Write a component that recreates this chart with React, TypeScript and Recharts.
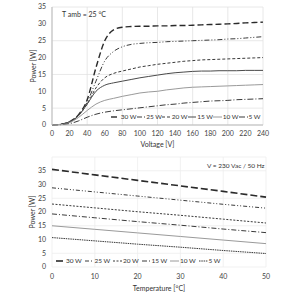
import { CartesianGrid, Line, LineChart, XAxis, YAxis } from 'recharts';

// top chart: power vs voltage at T amb = 25 °C
const voltage = [0, 10, 20, 30, 40, 50, 60, 70, 80, 90, 100, 110, 120, 130, 140, 150, 160, 170, 180, 190, 200, 210, 220, 230, 240];
const v30 = [0, 0.2, 1, 3, 7.5, 17, 25, 28.2, 29, 29.2, 29.3, 29.3, 29.4, 29.4, 29.5, 29.5, 29.6, 29.7, 29.8, 29.9, 30, 30.1, 30.3, 30.4, 30.5];
const v25 = [0, 0.2, 1, 3, 6.8, 13, 19, 21.8, 23.2, 23.9, 24.2, 24.4, 24.5, 24.7, 24.8, 24.9, 25, 25.1, 25.2, 25.3, 25.5, 25.6, 25.8, 26, 26.2];
const v20 = [0, 0.2, 0.9, 2.8, 6.2, 11, 14, 15.3, 16, 16.6, 17.2, 17.6, 18, 18.3, 18.6, 18.9, 19.1, 19.3, 19.4, 19.5, 19.6, 19.7, 19.8, 19.9, 20];
const v15 = [0, 0.2, 0.9, 2.7, 6.2, 10, 11.8, 12.5, 13, 13.5, 14, 14.4, 14.8, 15.2, 15.5, 15.7, 15.9, 16, 16, 16.1, 16.1, 16.1, 16.2, 16.2, 16.2];
const v10 = [0, 0.1, 0.7, 2.2, 4.3, 6.2, 7.3, 7.9, 8.5, 9, 9.5, 9.8, 10, 10.4, 10.7, 11, 11.2, 11.3, 11.4, 11.5, 11.6, 11.7, 11.8, 11.9, 12];
const v5 = [0, 0.1, 0.4, 1.2, 2.3, 3.2, 3.8, 4.2, 4.5, 4.8, 5.1, 5.4, 5.7, 6, 6.2, 6.5, 6.7, 6.9, 7.1, 7.2, 7.3, 7.5, 7.6, 7.7, 7.8];
const voltTicks = [0, 20, 40, 60, 80, 100, 120, 140, 160, 180, 200, 220, 240];

// bottom chart: power vs temperature at 230 Vac / 50 Hz
const temperature = [0, 10, 20, 30, 40, 50];
const t30 = [35.5, 33.5, 31.5, 29.5, 27.5, 25.4];
const t25 = [28.8, 27.3, 25.8, 24.3, 22.8, 21.4];
const t20 = [22.9, 21.5, 20.1, 18.8, 17.4, 16.0];
const t15 = [19.3, 17.9, 16.5, 15.2, 13.8, 12.5];
const t10 = [15.0, 13.7, 12.4, 11.1, 9.8, 8.5];
const t5 = [10.7, 9.5, 8.3, 7.2, 6.0, 4.9];
const tempTicks = [0, 10, 20, 30, 40, 50];

const powerTicks = [0, 5, 10, 15, 20, 25, 30, 35];
const names = ['30 W', '25 W', '20 W', '15 W', '10 W', '5 W'];

const voltData = voltage.map((v, i) => ({ v, p30: v30[i], p25: v25[i], p20: v20[i], p15: v15[i], p10: v10[i], p5: v5[i] }));
const tempData = temperature.map((t, i) => ({ t, p30: t30[i], p25: t25[i], p20: t20[i], p15: t15[i], p10: t10[i], p5: t5[i] }));

type Style = { key: string; stroke: string; width: number; dash?: string };

const topStyles: Style[] = [
  { key: 'p30', stroke: '#2a2a2a', width: 1.4, dash: '6 3' },
  { key: 'p25', stroke: '#3a3a3a', width: 1, dash: '5 2 1 2 1 2' },
  { key: 'p20', stroke: '#3a3a3a', width: 1, dash: '3 2' },
  { key: 'p15', stroke: '#4a4a4a', width: 1 },
  { key: 'p10', stroke: '#9a9a9a', width: 1 },
  { key: 'p5', stroke: '#3a3a3a', width: 1, dash: '6 2 1 2' },
];

const bottomStyles: Style[] = [
  { key: 'p30', stroke: '#2a2a2a', width: 1.6, dash: '7 3' },
  { key: 'p25', stroke: '#3a3a3a', width: 1, dash: '4 2 1 2 1 2' },
  { key: 'p20', stroke: '#3a3a3a', width: 1, dash: '2 1.5' },
  { key: 'p15', stroke: '#3a3a3a', width: 1, dash: '5 2 1 2' },
  { key: 'p10', stroke: '#9a9a9a', width: 1 },
  { key: 'p5', stroke: '#3a3a3a', width: 1, dash: '1.5 0.8' },
];

const font = 'Lato, sans-serif';
const tick = { fontSize: 7, fill: '#444', fontFamily: font };
const axisLabel = { fontSize: 7, fill: '#333', fontFamily: font };

function LegendRow({ styles, itemWidth, left, top }: { styles: Style[]; itemWidth: number; left: number; top: number }) {
  return (
    <div style={{ position: 'absolute', left, top, display: 'flex', fontSize: 6.5, color: '#333', lineHeight: '8px', whiteSpace: 'nowrap' }}>
      {styles.map((s, i) => (
        <div key={s.key} style={{ width: itemWidth, display: 'flex', alignItems: 'center' }}>
          <svg width={9} height={6} style={{ marginRight: 1 }}>
            <line x1={0} y1={3} x2={9} y2={3} stroke={s.stroke} strokeWidth={s.width} strokeDasharray={s.dash} />
          </svg>
          <span>{names[i]}</span>
        </div>
      ))}
    </div>
  );
}

export default function App() {
  return (
    <div style={{ position: 'absolute', left: 0, top: 0, width: 300, height: 300, background: '#fff', fontFamily: font }}>
      <LineChart width={300} height={150} data={voltData} margin={{ top: 7, right: 37, bottom: 0, left: 0 }}>
        <CartesianGrid stroke="#e2e2e2" strokeWidth={0.8} />
        <XAxis
          dataKey="v"
          type="number"
          domain={[0, 240]}
          ticks={voltTicks}
          tick={tick}
          tickLine={false}
          tickSize={4}
          tickMargin={2}
          height={25}
          stroke="#bbb"
          label={{ value: 'Voltage  [V]', position: 'insideBottom', offset: 3, style: axisLabel }}
        />
        <YAxis
          type="number"
          domain={[0, 35]}
          ticks={powerTicks}
          tick={tick}
          tickLine={false}
          tickSize={3}
          tickMargin={3}
          width={52}
          stroke="#bbb"
          label={{ value: 'Power [W]', angle: -90, position: 'insideLeft', offset: 34, style: { ...axisLabel, textAnchor: 'middle' } }}
        />
        {topStyles.map((s) => (
          <Line key={s.key} type="monotone" dataKey={s.key} stroke={s.stroke} strokeWidth={s.width} strokeDasharray={s.dash} dot={false} isAnimationActive={false} />
        ))}
      </LineChart>
      <LegendRow styles={topStyles} itemWidth={25.5} left={111} top={113} />
      <div style={{ position: 'absolute', left: 62, top: 10, fontSize: 7, color: '#333' }}>T amb = 25 °C</div>

      <LineChart width={300} height={150} data={tempData} margin={{ top: 7, right: 34, bottom: 0, left: 0 }}>
        <CartesianGrid stroke="#eeeeee" strokeWidth={0.8} />
        <XAxis
          dataKey="t"
          type="number"
          domain={[0, 50]}
          ticks={tempTicks}
          tick={tick}
          tickLine={false}
          tickSize={5}
          tickMargin={2}
          height={33}
          axisLine={false}
          label={{ value: 'Temperature [°C]', position: 'insideBottom', offset: 9, style: axisLabel }}
        />
        <YAxis
          type="number"
          domain={[0, 40]}
          ticks={powerTicks}
          tick={tick}
          tickLine={false}
          tickSize={3}
          tickMargin={3}
          width={52}
          axisLine={false}
          label={{ value: 'Power [W]', angle: -90, position: 'insideLeft', offset: 33, style: { ...axisLabel, textAnchor: 'middle' } }}
        />
        {bottomStyles.map((s) => (
          <Line key={s.key} type="linear" dataKey={s.key} stroke={s.stroke} strokeWidth={s.width} strokeDasharray={s.dash} dot={false} isAnimationActive={false} />
        ))}
      </LineChart>
      <LegendRow styles={bottomStyles} itemWidth={28.5} left={56} top={257} />
      <div style={{ position: 'absolute', left: 207, top: 162, fontSize: 6.5, color: '#333' }}>V = 230 Vac  / 50 Hz</div>
    </div>
  );
}
